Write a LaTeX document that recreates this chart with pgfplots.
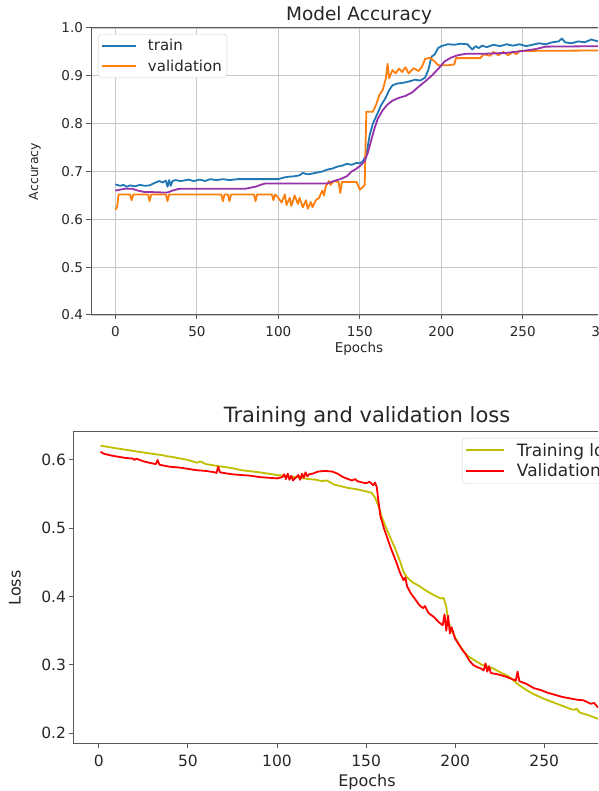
\documentclass[border=0pt]{standalone}
\usepackage{pgfplots}
\pgfplotsset{compat=1.18}
\usepackage{fontspec}
\setmainfont{DejaVu Sans}
\definecolor{mplblue}{HTML}{1F77B4}
\definecolor{mplorange}{HTML}{FF7F0E}
\definecolor{mplpurple}{HTML}{9632AA}
\definecolor{mplyellow}{HTML}{BFBF00}
\definecolor{mplred}{HTML}{FF0000}
\newcommand{\fs}[1]{\fontsize{#1}{#1}\selectfont}
\pgfplotsset{
  mybase/.style={
    scale only axis,
    anchor=south west,
    every axis title shift=0pt,
    /pgf/number format/assume math mode=true,
    tick pos=left, tick align=outside, major tick length=4.5pt,
    axis line style={black!65, line width=1pt},
    tick style={black!65, line width=1pt},
    xticklabel style={yshift=-3pt},
    yticklabel style={/pgf/number format/fixed, /pgf/number format/fixed zerofill, /pgf/number format/precision=1},
    legend cell align=left,
    every axis plot/.append style={line width=1.8pt, line join=round},
  }
}
\begin{document}
\begin{tikzpicture}
\path[use as bounding box] (0pt,0pt) rectangle (598pt,791pt);
\clip (0pt,0pt) rectangle (598pt,791pt);
% ---------------- Top: Model Accuracy ----------------
\begin{axis}[mybase,
  at={(91pt,476pt)}, width=536pt, height=287pt,
  xmin=-14.95, xmax=313.95, ymin=0.4, ymax=1.0,
  xtick={0,50,100,150,200,250,300},
  ytick={0.4,0.5,0.6,0.7,0.8,0.9,1.0},
  grid=major, major grid style={black!22, line width=1.1pt},
  tick label style={font=\fs{13.5}, text=black!85},
  title={Model Accuracy}, title style={at={(rel axis cs:0.5,1.045)}, anchor=center, font=\fs{18.5}, text=black!85},
  xlabel={Epochs}, xlabel style={at={(rel axis cs:0.5,-0.118)}, anchor=center, font=\fs{13.5}, text=black!85},
  ylabel={Accuracy}, ylabel style={at={(rel axis cs:-0.1045,0.5)}, anchor=center, font=\fs{12.5}, text=black!85},
  legend image code/.code={\draw[#1] (0pt,0pt) -- (34pt,0pt);},
  legend style={at={(rel axis cs:0.013,0.979)}, anchor=north west, draw=black!18, rounded corners=3pt,
    fill=white, font=\fs{15}, text=black!85, inner xsep=3pt, inner ysep=3pt, row sep=3.5pt,
    /tikz/every odd column/.append style={column sep=9pt}},
]
\addplot[mplblue] coordinates {
(0,0.673)(3,0.670)(5,0.672)(7,0.668)(9,0.671)(12,0.669)(15,0.672)(18,0.670)(21,0.671)(24,0.676)(27,0.680)(29,0.677)(31,0.681)(32,0.668)(33,0.682)(34,0.670)(35,0.680)(37,0.682)(40,0.680)(45,0.683)(48,0.680)(52,0.683)(55,0.680)(58,0.684)(62,0.682)(66,0.684)(70,0.682)(75,0.684)(80,0.684)(90,0.684)(100,0.684)(103,0.687)(106,0.689)(110,0.690)(113,0.692)(115,0.697)(118,0.694)(120,0.695)(124,0.698)(127,0.700)(130,0.704)(133,0.706)(136,0.710)(139,0.712)(142,0.716)(145,0.714)(148,0.718)(150,0.717)(152,0.722)(154,0.735)(156,0.775)(158,0.800)(160,0.815)(163,0.838)(166,0.855)(168,0.870)(170,0.880)(173,0.884)(176,0.885)(180,0.888)(184,0.892)(187,0.890)(190,0.896)(192,0.912)(194,0.940)(196,0.945)(198,0.958)(200,0.962)(204,0.966)(208,0.965)(212,0.967)(216,0.966)(219,0.955)(221,0.962)(223,0.958)(225,0.963)(228,0.960)(232,0.965)(236,0.962)(240,0.966)(244,0.963)(248,0.966)(252,0.962)(256,0.965)(260,0.968)(264,0.966)(268,0.970)(272,0.972)(274,0.978)(276,0.970)(280,0.968)(284,0.972)(288,0.970)(292,0.976)(296,0.972)(299,0.977)
};
\addlegendentry{train}
\addplot[mplorange] coordinates {
(0,0.620)(1,0.625)(2,0.652)(9,0.652)(10,0.640)(11,0.652)(20,0.652)(21,0.638)(22,0.652)(31,0.652)(32,0.638)(33,0.652)(65,0.652)(66,0.638)(67,0.652)(69,0.652)(70,0.638)(71,0.652)(85,0.652)(86,0.638)(87,0.652)(96,0.652)(97,0.640)(98,0.652)(100,0.645)(102,0.635)(104,0.652)(105,0.630)(107,0.645)(108,0.628)(110,0.650)(112,0.632)(113,0.645)(115,0.625)(117,0.640)(118,0.622)(120,0.636)(121,0.625)(123,0.640)(125,0.645)(127,0.660)(128,0.650)(129,0.668)(131,0.680)(132,0.672)(134,0.680)(137,0.678)(138,0.655)(139,0.678)(148,0.678)(150,0.662)(152,0.668)(153,0.672)(154,0.825)(158,0.825)(160,0.840)(162,0.860)(164,0.870)(166,0.895)(167,0.925)(168,0.895)(170,0.912)(172,0.905)(174,0.915)(176,0.908)(178,0.918)(180,0.905)(183,0.916)(186,0.910)(188,0.918)(190,0.935)(193,0.938)(196,0.930)(198,0.922)(204,0.922)(208,0.924)(209,0.937)(224,0.937)(226,0.945)(230,0.942)(232,0.950)(235,0.943)(238,0.950)(241,0.943)(244,0.950)(246,0.945)(248,0.952)(299,0.953)
};
\addlegendentry{validation}
\addplot[mplpurple, forget plot] coordinates {
(0,0.660)(3,0.662)(6,0.664)(10,0.664)(14,0.660)(18,0.657)(22,0.657)(30,0.656)(32,0.656)(35,0.660)(38,0.663)(40,0.664)(80,0.664)(84,0.667)(86,0.668)(89,0.672)(92,0.675)(130,0.675)(134,0.680)(138,0.684)(142,0.690)(145,0.700)(148,0.706)(151,0.714)(153,0.722)(155,0.740)(157,0.765)(159,0.790)(161,0.810)(164,0.828)(167,0.840)(170,0.848)(174,0.854)(178,0.858)(182,0.865)(186,0.877)(190,0.888)(194,0.900)(198,0.914)(202,0.930)(206,0.938)(210,0.943)(215,0.946)(225,0.946)(240,0.948)(250,0.952)(258,0.956)(264,0.961)(299,0.962)
};
\end{axis}
% ---------------- Bottom: Training and validation loss ----------------
\begin{axis}[mybase,
  at={(74pt,47pt)}, width=586pt, height=312pt,
  xmin=-13.95, xmax=314.95, ymin=0.184, ymax=0.641,
  xtick={0,50,100,150,200,250,300},
  ytick={0.2,0.3,0.4,0.5,0.6},
  tick label style={font=\fs{15.5}, text=black!85},
  title={Training and validation loss}, title style={at={(rel axis cs:0.5,1.048)}, anchor=center, font=\fs{21}, text=black!85},
  xlabel={Epochs}, xlabel style={at={(rel axis cs:0.5,-0.122)}, anchor=center, font=\fs{16}, text=black!85},
  ylabel={Loss}, ylabel style={at={(rel axis cs:-0.1007,0.5)}, anchor=center, font=\fs{16}, text=black!85},
  legend image code/.code={\draw[#1] (0pt,0pt) -- (38pt,0pt);},
  legend style={at={(rel axis cs:0.662,0.981)}, anchor=north west, draw=black!18, rounded corners=3pt,
    fill=white, font=\fs{17}, text=black!85, inner xsep=3pt, inner ysep=3pt, row sep=2.5pt,
    /tikz/every odd column/.append style={column sep=10pt}},
]
\addplot[mplyellow] coordinates {
(1,0.621)(10,0.617)(20,0.613)(30,0.609)(36,0.607)(38,0.6055)(40,0.605)(50,0.600)(55,0.596)(57,0.598)(60,0.594)(67,0.591)(75,0.588)(80,0.585)(90,0.582)(100,0.578)(110,0.575)(118,0.572)(122,0.571)(125,0.569)(128,0.570)(132,0.564)(140,0.559)(145,0.557)(150,0.554)(153,0.552)(155,0.545)(157,0.532)(159,0.515)(161,0.502)(163,0.490)(166,0.472)(169,0.452)(171,0.436)(173,0.428)(176,0.421)(180,0.415)(184,0.408)(188,0.402)(192,0.397)(193.5,0.398)(195,0.385)(196,0.365)(198,0.350)(201,0.335)(204,0.322)(207,0.313)(210,0.308)(215,0.300)(221,0.295)(226,0.288)(230,0.283)(236,0.270)(240,0.263)(244,0.257)(250,0.250)(255,0.245)(260,0.240)(265,0.235)(267,0.234)(268,0.236)(270,0.230)(275,0.226)(280,0.221)(285,0.217)(290,0.213)(295,0.209)(300,0.205)
};
\addlegendentry{Training loss}
\addplot[mplred] coordinates {
(1,0.612)(3,0.609)(8,0.606)(15,0.603)(19,0.602)(20,0.600)(21,0.602)(25,0.598)(30,0.595)(32,0.594)(33,0.600)(34,0.593)(40,0.590)(45,0.589)(50,0.587)(55,0.585)(60,0.584)(65,0.582)(66,0.581)(67,0.590)(68,0.582)(70,0.581)(75,0.579)(80,0.578)(85,0.577)(90,0.575)(95,0.574)(100,0.573)(103,0.575)(104,0.579)(105,0.572)(106,0.580)(107,0.571)(108,0.577)(109,0.570)(110,0.573)(112,0.578)(113,0.571)(114,0.580)(115,0.574)(116,0.582)(117,0.576)(118,0.579)(120,0.580)(123,0.583)(127,0.584)(131,0.583)(134,0.580)(137,0.575)(140,0.572)(142,0.570)(144,0.572)(145,0.569)(148,0.567)(150,0.566)(152,0.568)(154,0.563)(155,0.567)(156,0.560)(157,0.538)(158,0.518)(160,0.500)(162,0.485)(164,0.470)(167,0.450)(169,0.435)(171,0.424)(172,0.428)(173,0.415)(175,0.405)(177,0.398)(180,0.387)(182,0.383)(183,0.386)(185,0.376)(188,0.370)(191,0.362)(193,0.358)(194,0.374)(195,0.350)(196,0.372)(197,0.346)(198,0.355)(200,0.338)(202,0.330)(204,0.322)(206,0.315)(208,0.306)(210,0.300)(212,0.297)(214,0.295)(216,0.292)(217,0.302)(218,0.290)(219,0.298)(220,0.288)(224,0.286)(228,0.283)(232,0.279)(234,0.277)(235,0.290)(236,0.276)(240,0.272)(244,0.266)(248,0.263)(252,0.259)(256,0.256)(260,0.253)(264,0.251)(268,0.249)(272,0.248)(276,0.243)(278,0.244)(280,0.238)(285,0.235)(290,0.232)(295,0.229)(300,0.226)
};
\addlegendentry{Validation loss}
\end{axis}
\end{tikzpicture}
\end{document}
